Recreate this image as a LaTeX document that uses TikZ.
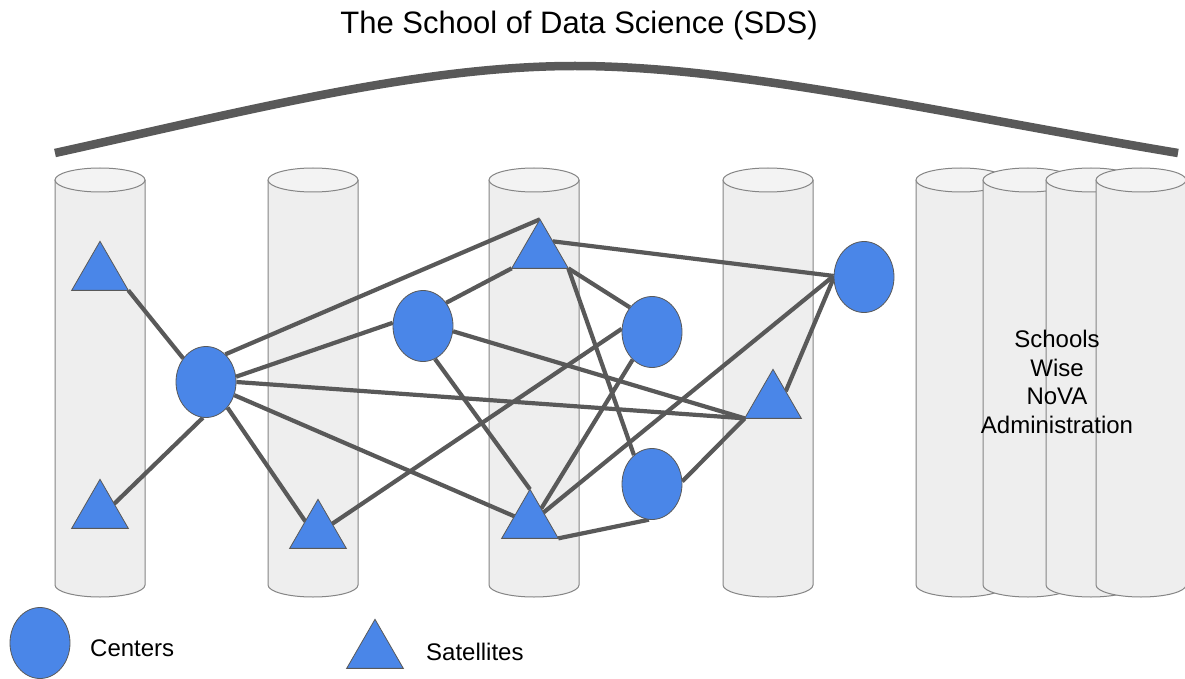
\documentclass[tikz,border=0pt]{standalone}
\usepackage{fontspec}
\setmainfont{Liberation Sans}
\usetikzlibrary{shapes.geometric,calc}
\definecolor{cylfill}{HTML}{EEEEEE}
\definecolor{cyltop}{HTML}{F3F3F3}
\definecolor{cylline}{HTML}{858585}
\definecolor{nodeblue}{HTML}{4A86E8}
\definecolor{edgegray}{HTML}{595959}
\pgfdeclarelayer{back}
\pgfdeclarelayer{mid}
\pgfsetlayers{back,mid,main}
\tikzset{
  cylline/.style={draw=cylline,line width=1pt},
  center/.style={ellipse,fill=nodeblue,draw=edgegray,line width=0.8pt,minimum width=60pt,minimum height=71pt,inner sep=0pt},
  sat/.style={regular polygon,regular polygon sides=3,fill=nodeblue,draw=edgegray,line width=0.8pt,minimum size=65.4pt,inner sep=0pt,outer sep=0pt},
  link/.style={draw=edgegray,line width=4.2pt},
  label/.style={font=\fontsize{24}{28.5}\selectfont,text=black,inner sep=0pt},
}
\newcommand\mycyl[1]{%
  \draw[cylline,fill=cylfill] (#1,180) -- (#1,585) arc[start angle=180,end angle=0,x radius=45,y radius=12] -- (#1+90,180);
  \draw[cylline,fill=cyltop] (#1+45,180) ellipse[x radius=45,y radius=12];
}
\begin{document}
\begin{tikzpicture}[x=1pt,y=-1pt]
\useasboundingbox (0,0) rectangle (1185,679);

% cylinders
\begin{pgfonlayer}{back}
\fill[white] (0,0) rectangle (1185,679);
\mycyl{55}
\mycyl{268}
\mycyl{489}
\mycyl{723}
\mycyl{916}
\mycyl{983}
\mycyl{1046}
\mycyl{1096}
\end{pgfonlayer}

% title
\node[anchor=base,font=\fontsize{31}{36}\selectfont,inner sep=0pt] (title) at (579,34) {The School of Data Science (SDS)};

% arch
\draw[edgegray,line width=8.5pt] (55,153) .. controls (250,110) and (420,66) .. (575,66)
  .. controls (740,66) and (950,115) .. (1178,153);

\node[label,align=center] (schools) at (1057,382) {Schools\\Wise\\NoVA\\Administration};

% centers
\node[center] (E1) at (206,382) {};
\node[center] (E2) at (423,326) {};
\node[center] (E3) at (652,332) {};
\node[center] (E4) at (864,277) {};
\node[center] (E5) at (652,484) {};

% satellites
\node[sat] (T1) at (100,274) {};
\node[sat] (T2) at (100,512) {};
\node[sat] (T3) at (318,532) {};
\node[sat] (T4) at (540,252) {};
\node[sat] (T5) at (530,522) {};
\node[sat] (T6) at (773,402) {};

% links
\begin{pgfonlayer}{mid}
\draw[link] (T1.corner 3) -- (E1.134);
\draw[link] (E1.55) -- (T4.corner 1);
\draw[link] (E1.10) -- (E2.174);
\draw[link] (E1.0) -- (T6.corner 2);
\draw[link] (E2.-10) -- (T6.corner 2);
\draw[link] (E1.-95) -- (T2.30);
\draw[link] (E1.-50) -- (T3.140);
\draw[link] (E1.-25) -- (T5.160);
\draw[link] (E2.45) -- (T4.corner 2);
\draw[link] (E2.-70) -- (T5.corner 1);
\draw[link] (T4.40) -- (E4.178);
\draw[link] (T4.corner 3) -- (E3.132);
\draw[link] (T4.corner 3) -- (E5.122);
\draw[link] (E3.174) -- (T3.30);
\draw[link] (E3.-125) -- (T5.50);
\draw[link] (E4.178) -- (T5.35);
\draw[link] (E4.182) -- (T6.40);
\draw[link] (T6.corner 2) -- (E5.5);
\draw[link] (T5.corner 3) -- (E5.-95);
\end{pgfonlayer}

% legend
\node[center] (LE) at (40,643) {};
\node[label,anchor=base west] (LEt) at (90,656) {Centers};
\node[sat] (LT) at (375,652) {};
\node[label,anchor=base west] (LTt) at (426,660) {Satellites};
\end{tikzpicture}
\end{document}
